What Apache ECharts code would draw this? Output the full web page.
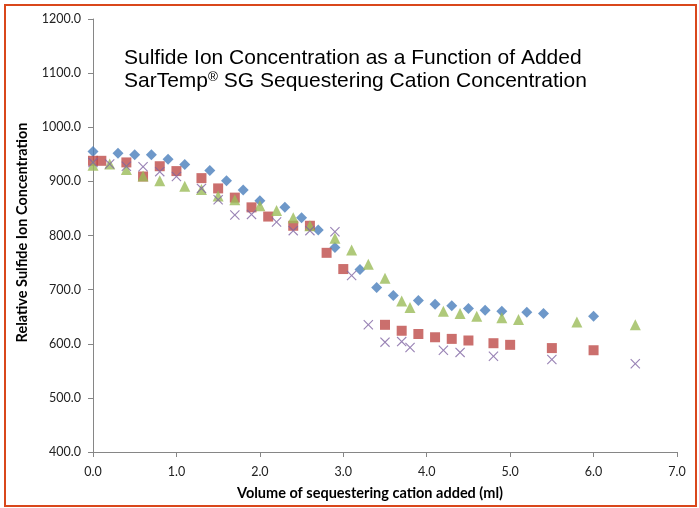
<!DOCTYPE html>
<html><head><meta charset="utf-8">
<script src="https://cdn.jsdelivr.net/npm/echarts@6/dist/echarts.min.js"></script>
<style>html,body{margin:0;padding:0;background:#fff}#c{width:699px;height:508px}</style>
</head><body><div id="c"></div>
<script>
var yTicks = [400,500,600,700,800,900,1000,1100,1200];
var xTicks = [0,1,2,3,4,5,6,7];
var blueX = [0,0.3,0.5,0.7,0.9,1.1,1.4,1.6,1.8,2.0,2.3,2.5,2.7,2.9,3.2,3.4,3.6,3.9,4.1,4.3,4.5,4.7,4.9,5.2,5.4,6.0];
var blueY = [955,952,949,949,941,931,920,901,884,864,852,833,810,778,737,704,689,680,673,670,665,662,660,658,656,651];
var redX = [0,0.1,0.4,0.6,0.8,1.0,1.3,1.5,1.7,1.9,2.1,2.4,2.6,2.8,3.0,3.5,3.7,3.9,4.1,4.3,4.5,4.8,5.0,5.5,6.0];
var redY = [938,938,935,909,928,919,906,887,870,852,835,818,818,768,738,635,624,618,612,609,606,601,598,592,588];
var greenX = [0,0.2,0.4,0.6,0.8,1.1,1.3,1.5,1.7,2.0,2.2,2.4,2.6,2.9,3.1,3.3,3.5,3.7,3.8,4.2,4.4,4.6,4.9,5.1,5.8,6.5];
var greenY = [930,932,922,910,901,891,885,873,866,855,846,833,818,795,773,747,721,679,667,660,656,651,648,645,640,635];
var purpleX = [0,0.2,0.4,0.6,0.8,1.0,1.3,1.5,1.7,1.9,2.2,2.4,2.6,2.9,3.1,3.3,3.5,3.7,3.8,4.2,4.4,4.8,5.5,6.5];
var purpleY = [935,932,928,927,918,909,887,866,838,839,825,809,809,807,726,635,603,604,593,588,584,577,571,563];
var titleLine1 = 'Sulfide Ion Concentration as a Function of Added';
var titleLine2a = 'SarTemp';
var titleSup = '®';
var titleLine2b = ' SG Sequestering Cation Concentration';
var xName = 'Volume of sequestering cation added (ml)';
var yName = 'Relative Sulfide Ion Concentration';

function pairs(xs, ys){ return xs.map(function(x,i){ return [x, ys[i]]; }); }
var xPath = 'path://M0,0.8L0.8,0L5,4.2L9.2,0L10,0.8L5.8,5L10,9.2L9.2,10L5,5.8L0.8,10L0,9.2L4.2,5Z';
var tickFont = 'Lato';
var chart = echarts.init(document.getElementById('c'));
chart.setOption({
  animation: false,
  backgroundColor: '#fff',
  title: {
    left: 119, top: 42,
    text: '{a|' + titleLine1 + '}\n{a|' + titleLine2a + '}{s|' + titleSup + '}{a|' + titleLine2b + '}',
    textStyle: {
      fontWeight: 'normal',
      rich: {
        a: {fontFamily: 'Liberation Sans', fontWeight: 'normal', fontSize: 21, color: '#000', lineHeight: 23},
        s: {fontFamily: 'Liberation Sans', fontWeight: 'normal', fontSize: 13.5, color: '#000', lineHeight: 23, verticalAlign: 'top', padding: [0,0,9,0]}
      }
    }
  },
  graphic: [{
    type: 'rect', shape: {x: 5, y: 5, width: 691, height: 501},
    style: {fill: 'none', stroke: '#D9471B', lineWidth: 2}, silent: true
  }],
  grid: {left: 93, right: 22, top: 19, bottom: 56, containLabel: false},
  xAxis: {
    type: 'value', min: xTicks[0], max: xTicks[xTicks.length-1], interval: 1,
    name: xName, nameLocation: 'middle', nameGap: 34,
    nameTextStyle: {fontFamily: tickFont, fontWeight: 'bold', fontSize: 14.5, color: '#000', padding: [0, 30, 0, 0]},
    axisLine: {lineStyle: {color: '#868686', width: 1}},
    axisTick: {show: true, inside: false, length: 5, lineStyle: {color: '#868686'}},
    axisLabel: {fontFamily: tickFont, fontSize: 12.5, color: '#222', margin: 13, formatter: function(v){return v.toFixed(1);}},
    splitLine: {show: false}
  },
  yAxis: {
    type: 'value', min: yTicks[0], max: yTicks[yTicks.length-1], interval: 100,
    name: yName, nameLocation: 'middle', nameGap: 63, nameRotate: 90,
    nameTextStyle: {fontFamily: tickFont, fontWeight: 'bold', fontSize: 14.5, color: '#000', padding: [0, 0, 0, 6]},
    axisLine: {show: true, lineStyle: {color: '#868686', width: 1}},
    axisTick: {show: true, inside: false, length: 5, lineStyle: {color: '#868686'}},
    axisLabel: {fontFamily: tickFont, fontSize: 12.5, color: '#222', margin: 12, formatter: function(v){return v.toFixed(1);}},
    splitLine: {show: false}
  },
  series: [
    {type: 'scatter', data: pairs(blueX, blueY), symbol: 'diamond', symbolSize: 11, itemStyle: {color: '#4A7EBB'}},
    {type: 'scatter', data: pairs(redX, redY), symbol: 'rect', symbolSize: 10, itemStyle: {color: '#BE4B48'}},
    {type: 'scatter', data: pairs(greenX, greenY), symbol: 'triangle', symbolSize: [11, 11], itemStyle: {color: '#9BBB59'}},
    {type: 'scatter', data: pairs(purpleX, purpleY), symbol: xPath, symbolSize: 10, itemStyle: {color: '#8064A2'}}
  ]
});
</script></body></html>
